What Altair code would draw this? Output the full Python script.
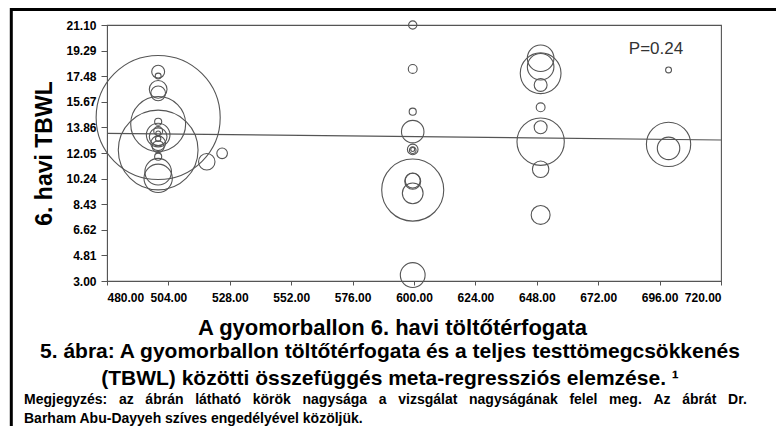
import altair as alt
import pandas as pd

# ---- data ----
study_x = [500, 500, 500, 500, 500, 500, 500, 500, 500, 500, 500, 500, 500, 500, 500, 500,
           519, 525, 500, 500,
           599.5, 599.5, 599.5, 599.5, 599.5, 599.5, 599.5, 599.5, 599.5, 599.5, 599.5, 599.5,
           649.5, 649.5, 649.5, 649.5, 649.5, 649.5, 649.5, 649.5, 649.5,
           699.5, 699.5, 699.5]
study_y = [14.56, 12.26, 14.10, 17.80, 17.49, 16.55, 16.27, 14.26, 13.32, 13.20, 13.44, 12.74, 12.50, 11.79, 10.73, 10.26,
           11.43, 12.03, 13.60, 13.05,
           21.10, 17.99, 14.97, 13.56, 12.30, 12.25, 12.30, 9.43, 10.05, 10.10, 9.20, 3.42,
           18.75, 18.15, 17.69, 16.86, 15.28, 13.87, 12.85, 10.90, 7.67,
           17.92, 12.66, 12.38]
# relative study size (circle area proportional to it)
study_n = [490, 202.5, 96.1, 5.3, 1.1, 10, 6.9, 1.6, 17.7, 10, 0.7, 6.9, 4.5, 1.6, 22.5, 25.6,
           8.6, 3.6, 2.5, 0.9,
           2.2, 2.5, 1.6, 16.1, 3.6, 1.4, 0.5, 122.5, 8.1, 7.2, 13.7, 19.6,
           22.5, 22.5, 52.9, 5.3, 2.5, 5.3, 71.3, 8.6, 11.4,
           1.1, 62.5, 16.1]

line_x = [480, 720]
line_y = [13.44, 12.97]

x_ticks = [480, 504, 528, 552, 576, 600, 624, 648, 672, 696, 720]
y_ticks = [3.00, 4.81, 6.62, 8.43, 10.24, 12.05, 13.86, 15.67, 17.48, 19.29, 21.10]

p_label = ["P=0.24"]
p_x = [694.6]
p_y = [19.42]

x_title = "A gyomorballon 6. havi töltőtérfogata"
y_title = "6. havi TBWL"
caption_lines = ["5. ábra: A gyomorballon töltőtérfogata és a teljes testtömegcsökkenés",
                 "(TBWL) közötti összefüggés meta-regressziós elemzése. \u00b9"]
note_lines = ["Megjegyzés: az ábrán látható körök nagysága a vizsgálat nagyságának felel meg. Az ábrát Dr.",
              "Barham Abu-Dayyeh szíves engedélyével közöljük."]

FONT = "Liberation Sans"
GRAY = "#555555"

# the note's first line is justified in the reference: widen its word gaps
JUSTIFY_GAP = "\u00a0" * 3
note_display = [note_lines[0].replace(" ", JUSTIFY_GAP), note_lines[1]]

studies = pd.DataFrame({"x": study_x, "y": study_y, "n": study_n})
reg = pd.DataFrame({"x": line_x, "y": line_y})
ptxt = pd.DataFrame({"x": p_x, "y": p_y, "t": p_label})
one = pd.DataFrame({"k": [0]})

xs = alt.Scale(domain=[480, 720], nice=False, zero=False)
ys = alt.Scale(domain=[3.0, 21.1], nice=False, zero=False)

x_axis = alt.Axis(values=x_ticks, tickCount=len(x_ticks), format=".2f", title=x_title, grid=False,
                  tickSize=4, labelPadding=7, labelFontSize=12, labelFontWeight="bold",
                  labelColor="black", domainColor=GRAY, tickColor=GRAY,
                  labelOverlap=False, labelBound=False,
                  titleFontSize=22, titleFontWeight="bold", titleColor="black",
                  titleX=285, titleY=53, titleBaseline="alphabetic", titleAlign="center")
y_axis = alt.Axis(values=y_ticks, tickCount=len(y_ticks), format=".2f", title=y_title, grid=False,
                  tickSize=6, labelPadding=5, labelFontSize=12, labelFontWeight="bold",
                  labelColor="black", domainColor=GRAY, tickColor=GRAY,
                  labelOverlap=False, labelBound=False,
                  titleFontSize=23, titleFontWeight="bold", titleColor="black",
                  titlePadding=9)

circles = alt.Chart(studies).mark_point(shape="circle", filled=False, stroke=GRAY,
                                        strokeWidth=1.1, opacity=1).encode(
    x=alt.X("x:Q", scale=xs, axis=x_axis),
    y=alt.Y("y:Q", scale=ys, axis=y_axis),
    size=alt.Size("n:Q", scale=alt.Scale(type="linear", domain=[0, 500], range=[0, 15708], zero=True),
                  legend=None),
)

regline = alt.Chart(reg).mark_line(color=GRAY, strokeWidth=1.2).encode(
    x=alt.X("x:Q", scale=xs), y=alt.Y("y:Q", scale=ys))

pval = alt.Chart(ptxt).mark_text(font=FONT, fontSize=17, color="#333333", align="center",
                                 baseline="middle").encode(
    x=alt.X("x:Q", scale=xs), y=alt.Y("y:Q", scale=ys), text="t:N")

caption = alt.Chart(one).mark_text(font=FONT, fontSize=21, fontWeight="bold", color="black",
                                   align="center", baseline="alphabetic", lineHeight=27).encode(
    x=alt.value(283), y=alt.value(333), text=alt.value(caption_lines))

note = alt.Chart(one).mark_text(font=FONT, fontSize=14, fontWeight="bold", color="black",
                                align="left", baseline="alphabetic", lineHeight=19).encode(
    x=alt.value(-83), y=alt.value(379), text=alt.value(note_display))

border = alt.Chart(one).mark_rect(fillOpacity=0, stroke="black", strokeWidth=3).encode(
    x=alt.value(-95.7), x2=alt.value(720), y=alt.value(-15.5), y2=alt.value(430))

chart = alt.layer(border, regline, circles, pval, caption, note).properties(
    width=614, height=256,
    padding={"left": 99, "top": 17, "right": 55, "bottom": 145},
    autosize=alt.AutoSizeParams(type="none"),
    background="white",
).configure(font=FONT).configure_view(stroke=GRAY, strokeWidth=1.1)

chart.save("out.html", embed_options={"renderer": "svg", "actions": False})
